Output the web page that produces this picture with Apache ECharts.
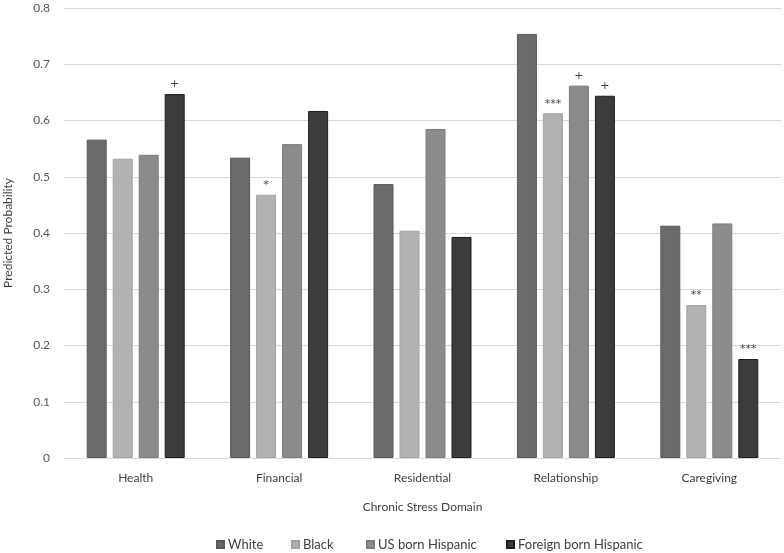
<!DOCTYPE html>
<html><head><meta charset="utf-8">
<script src="https://cdn.jsdelivr.net/npm/echarts@6/dist/echarts.min.js"></script>
<style>html,body{margin:0;padding:0;background:#fff}#c{width:784px;height:553px}</style>
</head><body><div id="c"></div>
<script>
const categories = ['Health', 'Financial', 'Residential', 'Relationship', 'Caregiving'];
const seriesNames = ['White', 'Black', 'US born Hispanic', 'Foreign born Hispanic'];
const white = [0.566, 0.534, 0.487, 0.754, 0.413];
const black = [0.532, 0.468, 0.404, 0.613, 0.272];
const usHispanic = [0.539, 0.558, 0.585, 0.662, 0.417];
const foreignHispanic = [0.647, 0.617, 0.393, 0.644, 0.176];
const sigWhite = ['', '', '', '', ''];
const sigBlack = ['', '*', '', '***', '**'];
const sigUS = ['', '', '', '+', ''];
const sigForeign = ['+', '', '', '+', '***'];
const yTicks = [0, 0.1, 0.2, 0.3, 0.4, 0.5, 0.6, 0.7, 0.8];

const colors = ['#6a6a6c', '#b1b1b1', '#8b8b8b', '#3c3c3c'];
const borders = ['#5a5a5c', '#a3a3a3', '#7c7c7c', '#1e1e1e'];
const values = [white, black, usHispanic, foreignHispanic];
const sigs = [sigWhite, sigBlack, sigUS, sigForeign];
const legendLeft = [216, 291, 366, 506];
const font = 'Lato, "Open Sans", sans-serif';

const chart = echarts.init(document.getElementById('c'));
chart.setOption({
  animation: false,
  textStyle: { fontFamily: font },
  legend: seriesNames.map((n, i) => ({
    top: 538, left: legendLeft[i], itemWidth: 7, itemHeight: 7, itemGap: 0,
    icon: 'rect', padding: 0,
    textStyle: { color: '#404040', fontSize: 13, fontFamily: font, padding: [0, 0, 0, -1] },
    data: [n]
  })),
  grid: { left: 64, right: 3, top: 8, bottom: 95, containLabel: false, outerBoundsMode: 'none' },
  xAxis: {
    type: 'category', data: categories,
    name: 'Chronic Stress Domain', nameLocation: 'middle', nameGap: 43,
    nameTextStyle: { color: '#404040', fontSize: 12, fontFamily: font },
    axisLine: { lineStyle: { color: '#d9d9d9' } },
    axisTick: { show: false },
    axisLabel: { color: '#404040', fontSize: 12, margin: 14, fontFamily: font }
  },
  yAxis: {
    type: 'value', min: 0, max: 0.8, interval: 0.1,
    name: 'Predicted Probability', nameLocation: 'middle', nameGap: 50, nameRotate: 90,
    nameTextStyle: { color: '#404040', fontSize: 12, fontFamily: font },
    axisLine: { show: false }, axisTick: { show: false },
    splitLine: { lineStyle: { color: '#d9d9d9' } },
    axisLabel: { color: '#595959', fontSize: 12, margin: 14, fontFamily: font,
      formatter: v => { const t = yTicks.find(x => Math.abs(x - v) < 1e-9); return t === 0 ? '0' : String(Number(t.toFixed(1))); } }
  },
  series: seriesNames.map((n, i) => ({
    name: n, type: 'bar', barWidth: 20, barGap: '30%',
    data: values[i],
    itemStyle: { color: colors[i], borderColor: borders[i], borderWidth: 1 },
    label: { show: true, position: 'top', distance: 4, color: '#404040', fontSize: 11,
      fontFamily: 'DejaVu Sans, sans-serif',
      formatter: p => sigs[i][p.dataIndex] }
  }))
});
</script></body></html>
